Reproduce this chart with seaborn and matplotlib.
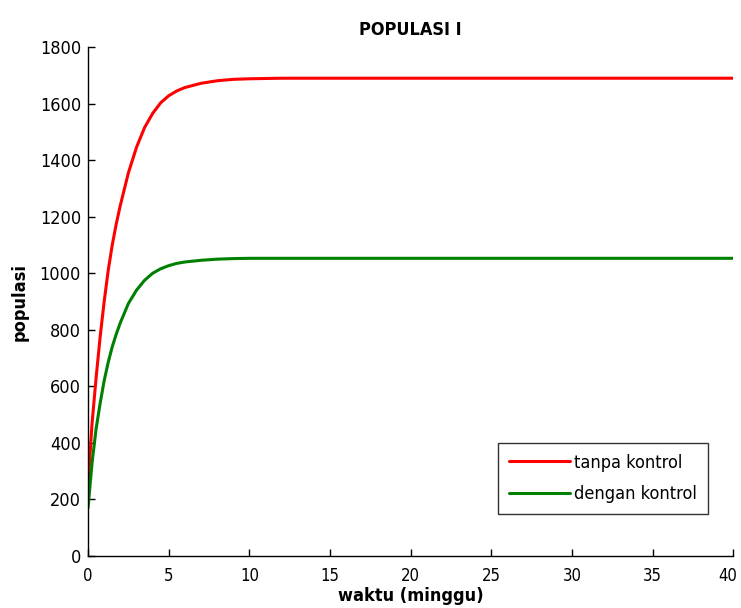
import numpy as np
import pandas as pd
import matplotlib
matplotlib.use("Agg")
import matplotlib.pyplot as plt
import matplotlib.transforms as mtransforms
import seaborn as sns

# data
waktu = [0, 0.25, 0.5, 0.75, 1, 1.25, 1.5, 1.75, 2, 2.5, 3, 3.5, 4, 4.5, 5, 5.5, 6, 7, 8, 9, 10,
         12, 15, 20, 25, 30, 35, 40]
tanpa_kontrol = [250, 470, 630, 775, 900, 1010, 1100, 1175, 1240, 1355, 1445, 1515, 1565, 1603, 1628, 1645, 1657,
                 1672, 1681, 1686, 1688, 1690, 1690, 1690, 1690, 1690, 1690, 1690]
dengan_kontrol = [170, 330, 450, 540, 620, 685, 740, 785, 825, 893, 940, 975, 1000, 1016, 1027, 1035, 1040,
                  1046, 1050, 1052, 1053, 1053, 1053, 1053, 1053, 1053, 1053, 1053]
series_names = ["tanpa kontrol", "dengan kontrol"]

df = pd.DataFrame({
    "waktu": waktu * 2,
    "populasi": tanpa_kontrol + dengan_kontrol,
    "seri": [series_names[0]] * len(waktu) + [series_names[1]] * len(waktu),
})

sns.set_style("ticks")
plt.rcParams["font.family"] = ["DejaVu Sans"]
plt.rcParams["font.stretch"] = "condensed"
plt.rcParams["text.color"] = "black"
plt.rcParams["axes.labelcolor"] = "black"

fig = plt.figure(figsize=(7.41, 6.08), dpi=100)
ax = fig.add_axes([0.1188, 0.0855, 0.871, 0.837])

sns.lineplot(data=df, x="waktu", y="populasi", hue="seri",
             palette=["#ff0000", "#008000"], linewidth=2.2, ax=ax)

ax.set_xlim(0, 40)
ax.set_ylim(0, 1800)
ax.set_xticks(np.arange(0, 41, 5))
ax.set_yticks(np.arange(0, 1801, 200))
ax.tick_params(direction="in", length=5, width=1, colors="black")
ax.tick_params(axis="x", labelsize=12, pad=8)
ax.tick_params(axis="y", labelsize=13, pad=5)
sns.despine(ax=ax)
for s in ["left", "bottom"]:
    ax.spines[s].set_linewidth(1)
    ax.spines[s].set_color("black")

ax.set_title("POPULASI I", fontsize=13, fontweight="bold", pad=9)
ax.set_xlabel("waktu (minggu)", fontsize=13, fontweight="bold", labelpad=1)
ax.set_ylabel("populasi", fontsize=13, fontweight="bold", labelpad=8)

leg = ax.legend(loc="lower right", bbox_to_anchor=(0.96, 0.0825), fontsize=13,
                frameon=True, fancybox=False, handlelength=3.4, handletextpad=0.2,
                borderpad=0.6, labelspacing=0.75, borderaxespad=0)
leg.get_frame().set_edgecolor("black")
leg.get_frame().set_linewidth(1)

# keep the "40" label inside the canvas
fig.canvas.draw()
last = ax.xaxis.get_major_ticks()[-1].label1
last.set_transform(last.get_transform() + mtransforms.ScaledTranslation(-4 / 72, 0, fig.dpi_scale_trans))

fig.savefig("out.png", dpi=100)
